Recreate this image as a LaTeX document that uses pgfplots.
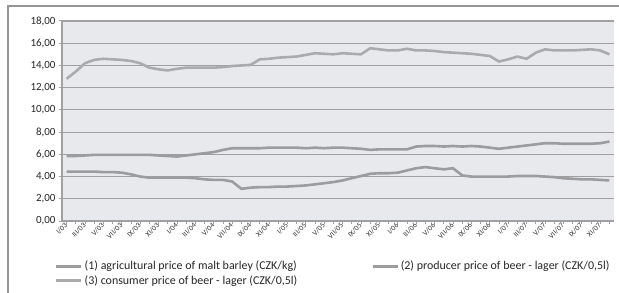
\documentclass[border=0pt]{standalone}
\usepackage{pgfplots}
\pgfplotsset{compat=1.18}
\usepackage{pgfplotstable}
\usepackage{fontspec}
\setmainfont{Carlito}
\definecolor{bgc}{RGB}{232,233,236}
\definecolor{gridc}{RGB}{160,160,163}
\definecolor{linec}{RGB}{156,156,159}
\definecolor{framec}{RGB}{150,150,152}
\pgfplotstableread{
i A P C
0 4.45 5.85 12.8
1 4.45 5.85 13.45
2 4.45 5.9 14.2
3 4.45 5.95 14.5
4 4.4 5.95 14.6
5 4.4 5.95 14.55
6 4.35 5.95 14.5
7 4.2 5.95 14.4
8 4.0 5.95 14.2
9 3.9 5.95 13.8
10 3.9 5.9 13.65
11 3.9 5.85 13.55
12 3.9 5.8 13.7
13 3.9 5.9 13.8
14 3.85 6.0 13.8
15 3.75 6.1 13.8
16 3.7 6.2 13.8
17 3.7 6.4 13.85
18 3.55 6.55 13.95
19 2.9 6.55 14.0
20 3.0 6.55 14.05
21 3.05 6.55 14.55
22 3.05 6.6 14.6
23 3.1 6.6 14.7
24 3.1 6.6 14.75
25 3.15 6.6 14.8
26 3.2 6.55 14.95
27 3.3 6.6 15.1
28 3.4 6.55 15.05
29 3.5 6.6 15.0
30 3.65 6.6 15.1
31 3.85 6.55 15.05
32 4.05 6.5 15.0
33 4.25 6.4 15.55
34 4.3 6.45 15.45
35 4.3 6.45 15.35
36 4.35 6.45 15.35
37 4.55 6.45 15.5
38 4.75 6.7 15.35
39 4.85 6.75 15.35
40 4.75 6.75 15.3
41 4.65 6.7 15.2
42 4.75 6.75 15.15
43 4.1 6.7 15.1
44 4.0 6.75 15.05
45 4.0 6.7 14.95
46 4.0 6.6 14.85
47 4.0 6.5 14.35
48 4.0 6.6 14.55
49 4.05 6.7 14.8
50 4.05 6.8 14.6
51 4.05 6.9 15.15
52 4.0 7.0 15.45
53 3.95 7.0 15.35
54 3.85 6.95 15.35
55 3.8 6.95 15.35
56 3.75 6.95 15.4
57 3.75 6.95 15.45
58 3.7 7.0 15.35
59 3.65 7.15 15.0
}\datatable
\begin{document}
\begin{tikzpicture}
\useasboundingbox (0,0) rectangle (619bp,293bp);
\draw[framec, line width=1.5bp] (8bp,0bp) -- (8bp,287bp) -- (619bp,287bp);
\begin{axis}[
  at={(62bp,72bp)}, anchor=south west,
  width=552bp, height=200bp, scale only axis,
  xmin=-0.5, xmax=59.5, ymin=0, ymax=18,
  ytick={0,2,...,18},
  xtick={0,2,...,58},
  minor xtick={1,3,...,59},
  xticklabels={I/03,III/03,V/03,VII/03,IX/03,XI/03,I/04,III/04,V/04,VII/04,IX/04,XI/04,I/05,III/05,V/05,VII/05,IX/05,XI/05,I/06,III/06,V/06,VII/06,IX/06,XI/06,I/07,III/07,V/07,VII/07,IX/07,XI/07},
  xticklabel style={rotate=45, anchor=east, font=\fontsize{7.5}{8}\selectfont, text=black!80, inner sep=0.5bp},
  yticklabel style={font=\fontsize{11}{12}\selectfont, text=black!85},
  /pgf/number format/fixed, /pgf/number format/fixed zerofill,
  /pgf/number format/precision=2, /pgf/number format/use comma,
  /pgf/number format/assume math mode=true,
  ymajorgrids, grid style={gridc, line width=1.2bp},
  axis background/.style={fill=bgc},
  axis x line*=bottom, axis y line*=left,
  axis line style={gridc, line width=1.2bp},
  tick align=outside, major tick length=3bp, minor tick length=3bp,
  tick style={gridc, line width=1bp},
  minor tick style={gridc, line width=1bp},
  legend columns=2,
  legend cell align=left,
  legend style={at={(-0.018,-0.18)}, anchor=north west, draw=none, fill=none,
    font=\fontsize{12}{13}\selectfont, text=black!85,
    /tikz/every even column/.append style={column sep=72bp},
    row sep=0bp},
  legend image code/.code={\draw[#1, line width=2.5bp] (0bp,0bp) -- (25bp,0bp);},
]
\addplot[linec, line width=2.6bp, line join=round] table[x=i, y=A] {\datatable};
\addlegendentry{(1) agricultural price of malt barley (CZK/kg)}
\addplot[linec, line width=2.6bp, line join=round] table[x=i, y=P] {\datatable};
\addlegendentry{(2) producer price of beer - lager (CZK/0,5l)}
\addplot[linec!85, line width=2.6bp, line join=round] table[x=i, y=C] {\datatable};
\addlegendentry{(3) consumer price of beer - lager (CZK/0,5l)}
\end{axis}
\end{tikzpicture}
\end{document}
